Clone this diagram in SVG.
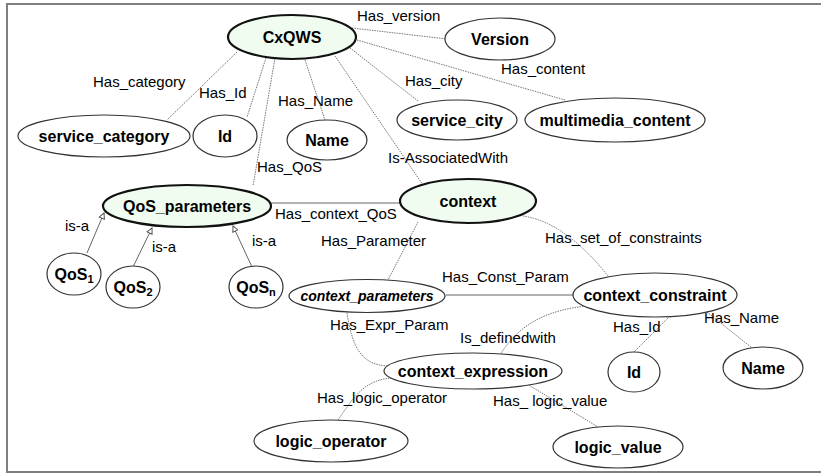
<svg xmlns="http://www.w3.org/2000/svg" width="821" height="476" viewBox="0 0 821 476">
<defs>
<style>
.frame{fill:#fff;stroke:#7f7f7f;stroke-width:2}
.n{fill:#fff;stroke:#333;stroke-width:1.2}
.m{fill:#f0fcf0;stroke:#111;stroke-width:2.2}
.nt{font-family:"Liberation Sans",Arial,sans-serif;font-weight:bold;font-size:16px;fill:#000;text-anchor:middle}
.it{font-style:italic;font-size:14px}
.lb{font-family:"Liberation Sans",Arial,sans-serif;font-size:15px;fill:#000}
.d{fill:none;stroke:#777;stroke-width:1;stroke-dasharray:1.5 1}
.s{fill:none;stroke:#666;stroke-width:1}
</style>
<marker id="tri" viewBox="0 0 10 10" refX="9" refY="5" markerWidth="7" markerHeight="7" orient="auto" markerUnits="userSpaceOnUse">
<path d="M1,1 L9,5 L1,9 Z" fill="#fff" stroke="#444" stroke-width="1.3"/>
</marker>
</defs>
<rect class="frame" x="7" y="4" width="830" height="468"/>
<g id="connectors">
<path class="d" d="M237,52 L167,120"/>
<path class="d" d="M266,58 L247,117"/>
<path class="d" d="M275,58 L253,186"/>
<path class="d" d="M305,60 L325,120"/>
<path class="d" d="M335,56 L423,185"/>
<path class="d" d="M350,48 L418,101"/>
<path class="d" d="M352,28 L447,39"/>
<path class="d" d="M357,40 L565,100"/>
<path class="s" d="M87,253 L104,213" marker-end="url(#tri)"/>
<path class="s" d="M133,267 L152,228" marker-end="url(#tri)"/>
<path class="s" d="M252,267 L233,226" marker-end="url(#tri)"/>
<path class="s" d="M271,203 L401,203"/>
<path class="d" d="M418,222 L388,280"/>
<path class="d" d="M523,216 Q565,222 608,276"/>
<path class="s" d="M446,295 L574,295"/>
<path class="d" d="M347,313 C352,345 360,366 390,366"/>
<path class="d" d="M586,306 C550,310 520,322 500,355"/>
<path class="d" d="M670,316 L633,353"/>
<path class="d" d="M707,312 L752,348"/>
<path class="d" d="M392,378 C365,380 355,395 338,420"/>
<path class="d" d="M527,384 L598,427"/>
</g>
<g id="labels">
<text class="lb" x="357" y="21">Has_version</text>
<text class="lb" x="93" y="87">Has_category</text>
<text class="lb" x="199" y="98">Has_Id</text>
<text class="lb" x="278" y="106">Has_Name</text>
<text class="lb" x="405" y="86">Has_city</text>
<text class="lb" x="501" y="74">Has_content</text>
<text class="lb" x="388" y="163">Is-AssociatedWith</text>
<text class="lb" x="257" y="172">Has_QoS</text>
<text class="lb" x="65" y="231">is-a</text>
<text class="lb" x="152" y="252">is-a</text>
<text class="lb" x="252" y="246">is-a</text>
<text class="lb" x="275" y="219">Has_context_QoS</text>
<text class="lb" x="321" y="246">Has_Parameter</text>
<text class="lb" x="545" y="243">Has_set_of_constraints</text>
<text class="lb" x="442" y="282">Has_Const_Param</text>
<text class="lb" x="330" y="330">Has_Expr_Param</text>
<text class="lb" x="460" y="343">Is_definedwith</text>
<text class="lb" x="613" y="332">Has_Id</text>
<text class="lb" x="704" y="323">Has_Name</text>
<text class="lb" x="317" y="403">Has_logic_operator</text>
<text class="lb" x="493" y="406">Has_ logic_value</text>
</g>
<g id="CxQWS"><ellipse class="m" cx="292" cy="37" rx="64" ry="22"/><text class="nt" x="292" y="43">CxQWS</text></g>
<g id="Version"><ellipse class="n" cx="500" cy="39" rx="55" ry="21"/><text class="nt" x="500" y="45">Version</text></g>
<g id="service_category"><ellipse class="n" cx="104" cy="136" rx="86" ry="21"/><text class="nt" x="104" y="142">service_category</text></g>
<g id="Id1"><ellipse class="n" cx="225" cy="136" rx="32" ry="21"/><text class="nt" x="225" y="142">Id</text></g>
<g id="Name1"><ellipse class="n" cx="327" cy="140" rx="40" ry="20"/><text class="nt" x="327" y="146">Name</text></g>
<g id="service_city"><ellipse class="n" cx="457" cy="120" rx="60" ry="20"/><text class="nt" x="457" y="126">service_city</text></g>
<g id="multimedia_content"><ellipse class="n" cx="615" cy="120" rx="90" ry="22"/><text class="nt" x="615" y="126">multimedia_content</text></g>
<g id="QoS_parameters"><ellipse class="m" cx="187" cy="206" rx="84" ry="21"/><text class="nt" x="187" y="212">QoS_parameters</text></g>
<g id="QoS1"><ellipse class="n" cx="74" cy="274" rx="27" ry="21"/><text class="nt" x="74" y="280">QoS<tspan font-size="11" dy="3">1</tspan></text></g>
<g id="QoS2"><ellipse class="n" cx="133" cy="287" rx="27" ry="21"/><text class="nt" x="133" y="293">QoS<tspan font-size="11" dy="3">2</tspan></text></g>
<g id="QoSn"><ellipse class="n" cx="256" cy="287" rx="27" ry="21"/><text class="nt" x="256" y="293">QoS<tspan font-size="11" dy="3">n</tspan></text></g>
<g id="context"><ellipse class="m" cx="468" cy="201" rx="68" ry="22"/><text class="nt" x="468" y="207">context</text></g>
<g id="context_parameters"><ellipse class="n" cx="367" cy="296" rx="78" ry="16.5"/><text class="nt it" x="367" y="301">context_parameters</text></g>
<g id="context_constraint"><ellipse class="n" cx="655" cy="295" rx="82" ry="22"/><text class="nt" x="655" y="301">context_constraint</text></g>
<g id="context_expression"><ellipse class="n" cx="473" cy="371" rx="89" ry="18"/><text class="nt" x="473" y="377">context_expression</text></g>
<g id="Id2"><ellipse class="n" cx="634" cy="372" rx="26" ry="20"/><text class="nt" x="634" y="378">Id</text></g>
<g id="Name2"><ellipse class="n" cx="763" cy="368" rx="40" ry="21"/><text class="nt" x="763" y="374">Name</text></g>
<g id="logic_operator"><ellipse class="n" cx="331" cy="441" rx="77" ry="21"/><text class="nt" x="331" y="447">logic_operator</text></g>
<g id="logic_value"><ellipse class="n" cx="618" cy="447" rx="65" ry="21"/><text class="nt" x="618" y="453">logic_value</text></g>
</svg>
